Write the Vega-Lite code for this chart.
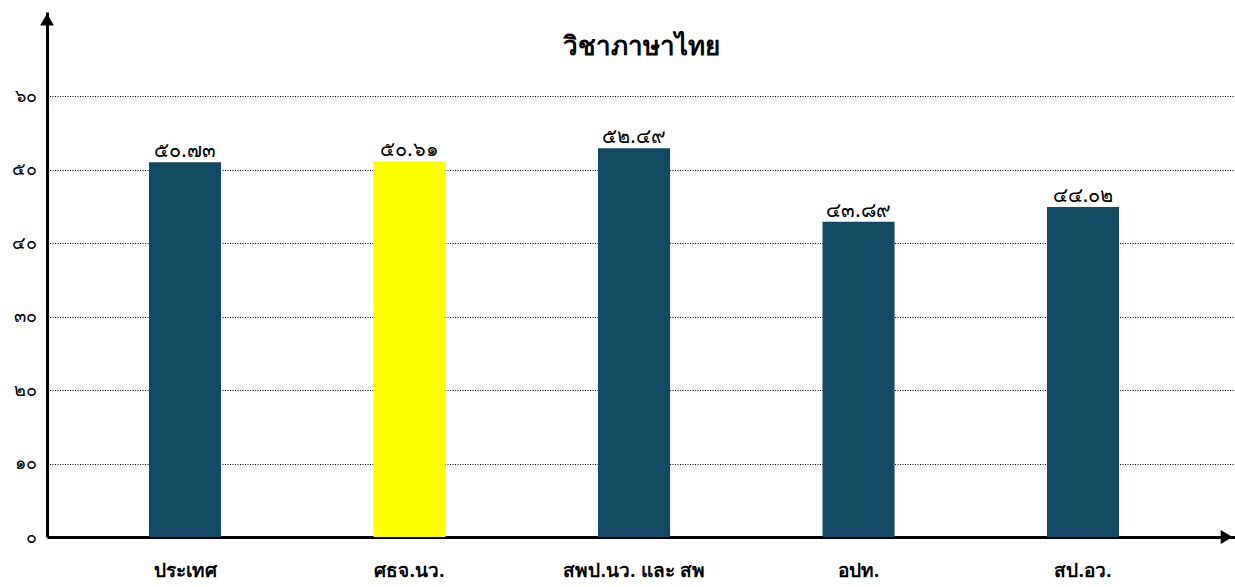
{
  "$schema": "https://vega.github.io/schema/vega-lite/v6.json",
  "width": 1188,
  "height": 525,
  "autosize": {"type": "none"},
  "padding": {"left": 47, "top": 12, "right": 0, "bottom": 50},
  "background": "white",
  "title": {
    "text": "วิชาภาษาไทย",
    "orient": "top",
    "anchor": "middle",
    "offset": -48,
    "fontSize": 26,
    "fontWeight": "bold",
    "font": "Noto Serif",
    "color": "black"
  },
  "config": {
    "view": {"stroke": null},
    "font": "Noto Sans"
  },
  "layer": [
    {
      "data": {
        "values": [
          {"category": "ประเทศ", "value": 51.0, "label": "๕๐.๗๓"},
          {"category": "ศธจ.นว.", "value": 51.1, "label": "๕๐.๖๑"},
          {"category": "สพป.นว. และ สพ", "value": 52.9, "label": "๕๒.๔๙"},
          {"category": "อปท.", "value": 42.9, "label": "๔๓.๘๙"},
          {"category": "สป.อว.", "value": 44.9, "label": "๔๔.๐๒"}
        ]
      },
      "encoding": {
        "x": {
          "field": "category",
          "type": "nominal",
          "sort": null,
          "scale": {"paddingInner": 0.679, "paddingOuter": 0.4854, "align": 0.468},
          "axis": {
            "title": null,
            "domain": true,
            "domainColor": "black",
            "domainWidth": 3,
            "ticks": false,
            "labelAngle": 0,
            "labelPadding": 24,
            "labelFontSize": 19,
            "labelFontWeight": "bold",
            "labelColor": "black",
            "labelFont": "Noto Serif"
          }
        },
        "y": {
          "field": "value",
          "type": "quantitative",
          "scale": {"domain": [0, 71.43], "nice": false, "zero": true},
          "axis": {
            "title": null,
            "values": [0, 10, 20, 30, 40, 50, 60],
            "labelExpr": "['๐','๑๐','๒๐','๓๐','๔๐','๕๐','๖๐'][datum.value/10]",
            "domain": true,
            "domainColor": "black",
            "domainWidth": 3,
            "ticks": false,
            "labelPadding": 11,
            "labelFontSize": 18,
            "labelColor": "black",
            "grid": true,
            "gridColor": "black",
            "gridDash": [1, 1.5],
            "gridWidth": 1,
            "gridOpacity": {"condition": {"test": "datum.value === 0", "value": 0}, "value": 1}
          }
        }
      },
      "layer": [
        {
          "mark": {"type": "bar"},
          "encoding": {
            "color": {
              "field": "category",
              "type": "nominal",
              "scale": {
                "domain": ["ประเทศ", "ศธจ.นว.", "สพป.นว. และ สพ", "อปท.", "สป.อว."],
                "range": ["#134A63", "#FFFF00", "#134A63", "#134A63", "#134A63"]
              },
              "legend": null
            }
          }
        },
        {
          "mark": {"type": "text", "baseline": "bottom", "dy": -1, "fontSize": 20, "color": "black"},
          "encoding": {"text": {"field": "label"}}
        }
      ]
    },
    {
      "data": {
        "values": [
          {"ax": 0, "ay1": 70.4},
          {"ax": 1, "ay1": 0}
        ]
      },
      "layer": [
        {
          "transform": [{"filter": "datum.ax === 0"}],
          "mark": {"type": "point", "shape": "triangle-up", "filled": true, "color": "black", "size": 190, "opacity": 1},
          "encoding": {
            "x": {"field": "ax", "type": "quantitative", "scale": {"domain": [0, 1], "nice": false}, "axis": null},
            "y": {"field": "ay1", "type": "quantitative"}
          }
        },
        {
          "transform": [{"filter": "datum.ax === 1"}],
          "mark": {"type": "point", "shape": "triangle-right", "filled": true, "color": "black", "size": 190, "opacity": 1},
          "encoding": {
            "x": {"datum": 0.993, "type": "quantitative", "scale": {"domain": [0, 1], "nice": false}, "axis": null},
            "y": {"field": "ay1", "type": "quantitative"}
          }
        }
      ]
    }
  ],
  "resolve": {"scale": {"x": "independent"}, "axis": {"x": "independent"}}
}
